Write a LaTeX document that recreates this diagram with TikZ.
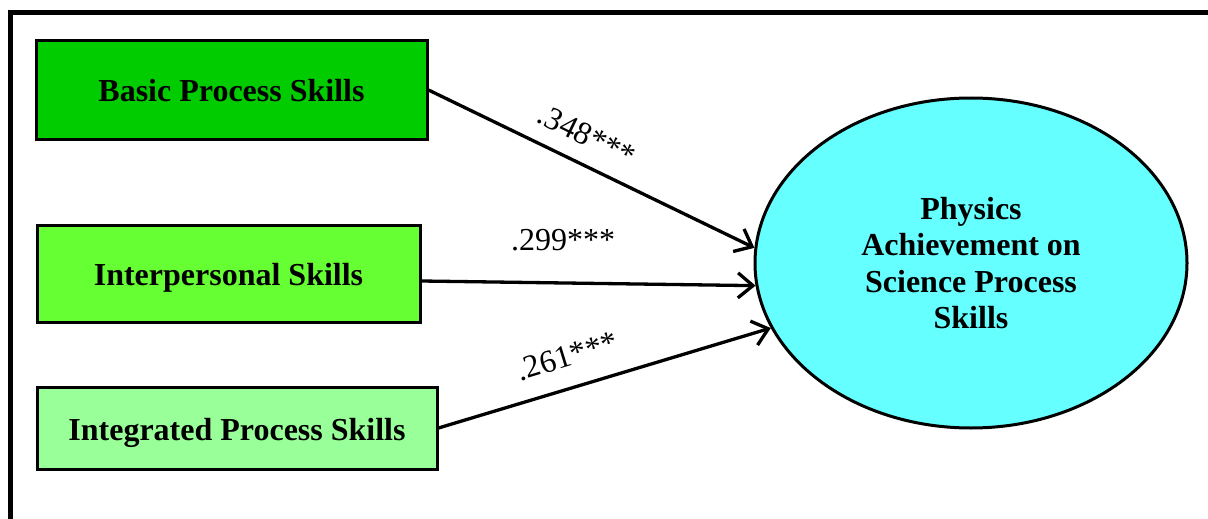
\documentclass[tikz,border=0pt]{standalone}
\usepackage{fontspec}
\setmainfont{Liberation Serif}
\usetikzlibrary{arrows.meta,shapes.geometric}
\definecolor{basicgreen}{HTML}{00CC00}
\definecolor{interpgreen}{HTML}{66FF33}
\definecolor{integgreen}{HTML}{99FF99}
\definecolor{outcomecyan}{HTML}{66FFFF}
\tikzset{
  skillbox/.style={draw=black, line width=3pt, rectangle, inner sep=0pt,
    text height=24pt, text depth=0pt,
    font=\fontsize{32}{36}\selectfont\bfseries},
  outcome/.style={draw=black, line width=3pt, ellipse, fill=outcomecyan, inner sep=0pt,
    align=center, font=\fontsize{32}{36.5}\selectfont\bfseries},
  path/.style={line width=3.3pt, -{Straight Barb[length=15pt,width=25pt,line width=3.3pt]}},
  coef/.style={font=\fontsize{32}{36}\selectfont, inner sep=0pt}
}
\begin{document}
\begin{tikzpicture}[x=1pt,y=-1pt]
\useasboundingbox (0,0) rectangle (1208,519);
\clip (0,0) rectangle (1208,519);
% outer frame, running past the page on the right and bottom
\draw[line width=5pt] (10,12.5) rectangle (1240,560);
% predictor boxes
\node[skillbox, fill=basicgreen, minimum width=391pt, minimum height=98pt] (b1) at (231.5,90) {Basic Process Skills};
\node[skillbox, fill=interpgreen, minimum width=383pt, minimum height=97pt] (b2) at (228.5,273.5) {Interpersonal Skills};
\node[skillbox, fill=integgreen, minimum width=400pt, minimum height=82pt] (b3) at (237,428) {Integrated Process Skills};
% outcome
\node[outcome, minimum width=432pt, minimum height=330pt] (y) at (971,263)
  {Physics\\Achievement on\\Science Process\\Skills};
% paths
\draw[path] (b1.east) -- (y.176);
\draw[path] ([yshift=-7.5pt]b2.east) -- (y.186);
\draw[path] (b3.east) -- (y.198);
% coefficients
\node[coef, rotate=-26] (c1) at (587,135) {.348***};
\node[coef] (c2) at (563,240) {.299***};
\node[coef, rotate=17] (c3) at (567,356) {.261***};
\end{tikzpicture}
\end{document}
